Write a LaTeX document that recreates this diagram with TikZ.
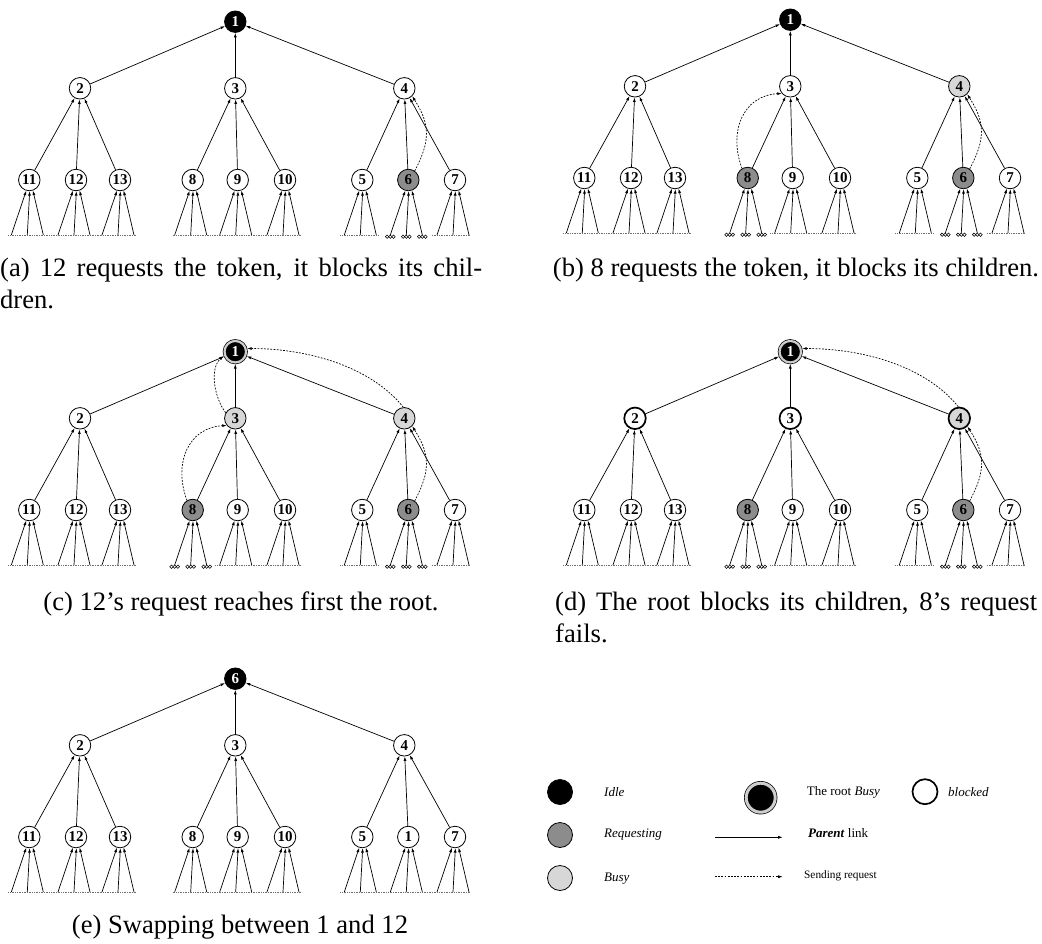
\documentclass[tikz,border=0pt]{standalone}
\usepackage{fontspec}
\setmainfont{Liberation Serif}
\usetikzlibrary{arrows.meta}
\definecolor{reqgray}{RGB}{140,140,140}
\definecolor{busygray}{RGB}{215,215,215}
\definecolor{ringgray}{RGB}{205,205,205}
\definecolor{dotgray}{RGB}{110,110,110}
\tikzset{
  tn/.style={circle, draw=black, line width=0.8pt, minimum size=21.5pt, inner sep=0pt, fill=white,
    font=\fontsize{15}{15}\selectfont\bfseries},
  idle/.style={fill=black, text=white},
  req/.style={fill=reqgray},
  busy/.style={fill=busygray},
  blk/.style={line width=1.7pt},
  rootbusy/.style={fill=black, text=white, double=ringgray, double distance=2.2pt, line width=0.7pt, outer sep=1.6pt},
  plink/.style={line width=0.7pt, -{Latex[length=4.5pt,width=3pt]}},
  sreq/.style={line width=0.7pt, dash pattern=on 1.8pt off 1.4pt, -{Latex[length=4.5pt,width=3pt]}},
  dotbase/.style={line width=0.6pt, dotgray, dash pattern=on 0.6pt off 1.1pt},
  ooo/.style={line width=0.55pt},
  capt/.style={font=\fontsize{26.6}{32}\selectfont, inner sep=0pt},
  leg/.style={font=\fontsize{13}{15}\selectfont, inner sep=0pt, anchor=west},
}
\newcommand\ResetS{\tikzset{sR/.style={idle},s2/.style={},s3/.style={},s4/.style={},s5/.style={},
  s6/.style={},s7/.style={},s8/.style={},s9/.style={},s10/.style={},s11/.style={},s12/.style={},s13/.style={}}}
\newcommand\Fan[5]{%
  \coordinate (#1-l) at ({#2-18},235);
  \coordinate (#1-m) at ({#2-2},235);
  \coordinate (#1-r) at ({#2+14},235);
  \draw[plink] (#1-l) -- (#1.-106);
  \draw[plink] (#1-m) -- (#1.-88);
  \draw[plink] (#1-r) -- (#1.-71);
  \ifnum#3=1
    \foreach \c in {l,m,r}{\draw[ooo] (#1-\c) ++(-3.2,1.7) circle[radius=1.7pt] ++(3.2,0) circle[radius=1.7pt] ++(3.2,0) circle[radius=1.7pt];}
  \else
    \draw[dotbase] ({#2-#4},235.5) -- ({#2+#5},235.5);
  \fi}
\newcommand\DrawTree[7]{%
\begin{scope}[shift={(#2,#3)}]
  \node[tn,sR] (#1r) at (235.3,21.7) {#4};
  \node[tn,s2] (#12) at (80,88.3) {2};
  \node[tn,s3] (#13) at (235.3,88.3) {3};
  \node[tn,s4] (#14) at (404.3,88.3) {4};
  \node[tn,s11] (#111) at (29.3,180) {11};
  \node[tn,s12] (#112) at (76,180) {12};
  \node[tn,s13] (#113) at (120,180) {13};
  \node[tn,s8] (#18) at (192.7,180) {8};
  \node[tn,s9] (#19) at (237.7,180) {9};
  \node[tn,s10] (#110) at (285,180) {10};
  \node[tn,s5] (#15) at (362.3,180) {5};
  \node[tn,s6] (#16) at (408.3,180) {#5};
  \node[tn,s7] (#17) at (455,180) {7};
  \foreach \c in {2,3,4} \draw[plink] (#1\c) -- (#1r);
  \foreach \c/\p in {11/2,12/2,13/2,8/3,9/3,10/3,5/4,6/4,7/4} \draw[plink] (#1\c) -- (#1\p);
  \Fan{#111}{29.3}{0}{21}{23.3}
  \Fan{#112}{76}{0}{23.4}{22}
  \Fan{#113}{120}{0}{22}{17}
  \Fan{#18}{192.7}{#6}{20}{22.5}
  \Fan{#19}{237.7}{0}{22.5}{23.5}
  \Fan{#110}{285}{0}{23.8}{17}
  \Fan{#15}{362.3}{0}{22}{17}
  \Fan{#16}{408.3}{#7}{29}{24}
  \Fan{#17}{455}{0}{23}{15}
\end{scope}}
\begin{document}
\begin{tikzpicture}[x=1pt,y=-1pt]
\useasboundingbox (0,0) rectangle (1042,943);
\fill[white] (0,0) rectangle (1042,943);
% (a)
\ResetS
\tikzset{s6/.style={req}}
\DrawTree{a}{0}{0}{1}{6}{0}{1}
\draw[sreq] (a6.55) .. controls +(16,-30) and +(18,28) .. (a4.-45);
% (b)
\ResetS
\tikzset{s4/.style={busy},s6/.style={req},s8/.style={req}}
\DrawTree{b}{555}{-2}{1}{6}{1}{1}
\draw[sreq] (b8.121) .. controls +(-14,-38) and +(-38,2) .. (b3.-140);
\draw[sreq] (b6.55) .. controls +(16,-30) and +(18,28) .. (b4.-45);
% (c)
\ResetS
\tikzset{sR/.style={rootbusy},s3/.style={busy},s4/.style={busy},s6/.style={req},s8/.style={req}}
\DrawTree{c}{0}{330}{1}{6}{1}{1}
\draw[sreq] (c8.121) .. controls +(-14,-38) and +(-38,2) .. (c3.-140);
\draw[sreq] (c6.55) .. controls +(16,-30) and +(18,28) .. (c4.-45);
\draw[sreq] (c3.150) .. controls +(-12,-16) and +(-14,12) .. (cr.200);
\draw[sreq] (c4.95) .. controls +(-32,-40) and +(62,0) .. (cr.15);
% (d)
\ResetS
\tikzset{sR/.style={rootbusy},s2/.style={blk},s3/.style={blk},s4/.style={busy,blk},s6/.style={req},s8/.style={req}}
\DrawTree{d}{555}{330}{1}{6}{1}{1}
\draw[sreq] (d6.55) .. controls +(16,-30) and +(18,28) .. (d4.-45);
\draw[sreq] (d4.95) .. controls +(-32,-40) and +(62,0) .. (dr.15);
% (e)
\ResetS
\DrawTree{e}{0}{657}{6}{1}{0}{0}
% captions
\node[capt, anchor=base west] (capA1) at (0,276) {\makebox[482pt][s]{(a) 12 requests the token, it blocks its chil-}};
\node[capt, anchor=base west] (capA2) at (0,308) {dren.};
\node[capt, anchor=base] (capB) at (796,276) {(b) 8 requests the token, it blocks its children.};
\node[capt, anchor=base] (capC) at (241,610) {(c) 12's request reaches first the root.};
\node[capt, anchor=base west] (capD1) at (555,610) {\makebox[482pt][s]{(d) The root blocks its children, 8's request}};
\node[capt, anchor=base west] (capD2) at (555,642) {fails.};
\node[capt, anchor=base] (capE) at (240,933) {(e) Swapping between 1 and 12};
% legend
\node[tn, minimum size=25pt, idle] (swIdle) at (560,792) {};
\node[tn, minimum size=25pt, req] (swReq) at (560,835) {};
\node[tn, minimum size=25pt, busy] (swBusy) at (560,878) {};
\node[leg] (tIdle) at (604,792) {\itshape Idle};
\node[leg] (tReq) at (604,835) {\itshape Requesting};
\node[leg] (tBusy) at (604,879) {\itshape Busy};
\node[tn, rootbusy, minimum size=29pt, double distance=3pt] (swRoot) at (760.7,797.7) {};
\node[leg] (tRoot) at (806.7,792) {The root \textit{Busy}};
\node[tn, blk, minimum size=25pt] (swBlk) at (925,791.7) {};
\node[leg] (tBlk) at (948,792) {\itshape blocked};
\coordinate (pa) at (715,837.3);
\coordinate (pb) at (782.7,837.3);
\draw[plink] (pa) -- (pb);
\node[leg] (tPar) at (808,832.7) {\textbf{\textit{Parent}} link};
\coordinate (sa) at (715,876.7);
\coordinate (sb) at (782.7,876.7);
\draw[sreq] (sa) -- (sb);
\node[leg, font=\fontsize{11.3}{13}\selectfont] (tSend) at (804,875.7) {Sending request};
\end{tikzpicture}
\end{document}
